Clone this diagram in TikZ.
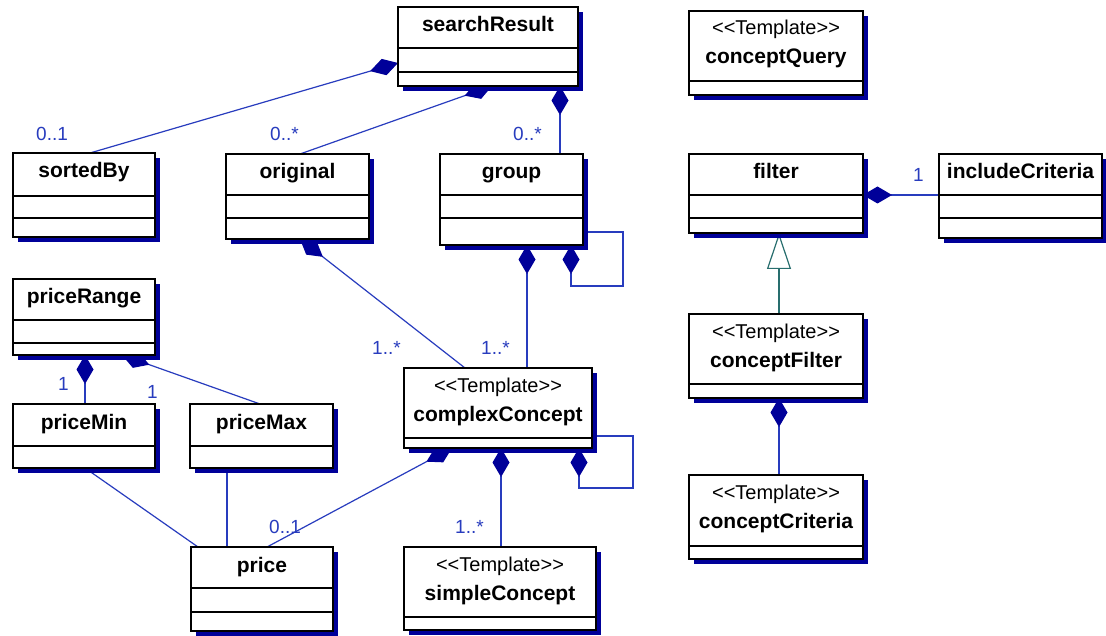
\documentclass[tikz,border=0pt]{standalone}
\usepackage{fontspec}
\setmainfont{Liberation Sans}
\usetikzlibrary{arrows.meta}
\definecolor{navy}{RGB}{0,0,153}
\definecolor{lineblue}{RGB}{40,60,190}
\definecolor{lblblue}{RGB}{40,60,190}
\definecolor{tealline}{RGB}{40,110,110}
\pgfdeclarelayer{bg}
\pgfsetlayers{bg,main}
\tikzset{
 cls/.style={draw=black, line width=1.3pt, fill=white, inner sep=0pt, outer sep=0pt, anchor=north west},
 shadowbox/.style={fill=navy},
 sepline/.style={draw=black, line width=1.3pt},
 cname/.style={font=\bfseries\fontsize{21}{21}\selectfont, anchor=base, inner sep=0pt},
 stereo/.style={font=\fontsize{20}{20}\selectfont, anchor=base, inner sep=0pt},
 mult/.style={font=\fontsize{19}{19}\selectfont, text=lblblue, anchor=base west, inner sep=0pt},
 assoc/.style={draw=lineblue, line width=1.2pt},
 compo/.style={assoc, {Diamond[length=29pt,width=17pt,fill=navy,color=navy]}-},
 gen/.style={draw=tealline, line width=1.2pt, -{Triangle[open,length=36pt,width=24pt,fill=white,color=tealline]}},
}
% id, x1, y1, x2, y2, sep1, sep2, name
\newcommand\plainclass[8]{%
 \fill[shadowbox] (#2+5,#3+5) rectangle (#4+5,#5+5);
 \pgfmathsetmacro\ww{#4-#2}\pgfmathsetmacro\hh{#5-#3}%
 \node[cls, minimum width=\ww pt, minimum height=\hh pt] (#1) at (#2,#3) {};
 \draw[sepline] (#2,#6) -- (#4,#6);
 \draw[sepline] (#2,#7) -- (#4,#7);
 \node[cname] (#1-n) at ({(#2+#4)/2},#3+25) {#8};
}
% id, x1, y1, x2, y2, sep1, name
\newcommand\onesepclass[7]{%
 \fill[shadowbox] (#2+5,#3+5) rectangle (#4+5,#5+5);
 \pgfmathsetmacro\ww{#4-#2}\pgfmathsetmacro\hh{#5-#3}%
 \node[cls, minimum width=\ww pt, minimum height=\hh pt] (#1) at (#2,#3) {};
 \draw[sepline] (#2,#6) -- (#4,#6);
 \node[cname] (#1-n) at ({(#2+#4)/2},#3+25) {#7};
}
% id, x1, y1, x2, y2, sep1, name
\newcommand\tmplclass[7]{%
 \fill[shadowbox] (#2+5,#3+5) rectangle (#4+5,#5+5);
 \pgfmathsetmacro\ww{#4-#2}\pgfmathsetmacro\hh{#5-#3}%
 \node[cls, minimum width=\ww pt, minimum height=\hh pt] (#1) at (#2,#3) {};
 \draw[sepline] (#2,#6) -- (#4,#6);
 \node[stereo] (#1-s) at ({(#2+#4)/2},#3+24) {<{}<Template>{}>};
 \node[cname] (#1-n) at ({(#2+#4)/2},#3+53) {#7};
}
\begin{document}
\begin{tikzpicture}[x=1pt,y=-1pt]
\useasboundingbox (0,0) rectangle (1106,636);
\begin{pgfonlayer}{bg}
\fill[white] (0,0) rectangle (1106,636);
\end{pgfonlayer}

\plainclass{sr}{398}{7}{578}{86}{48}{72}{searchResult}
\plainclass{sb}{13}{153}{155}{237}{196}{218}{sortedBy}
\plainclass{orig}{226}{154}{369}{239}{195}{218}{original}
\plainclass{grp}{440}{154}{583}{245}{195}{218}{group}
\tmplclass{cq}{689}{11}{863}{95}{81}{conceptQuery}
\plainclass{filt}{689}{154}{863}{233}{195}{218}{filter}
\plainclass{inc}{939}{154}{1102}{238}{195}{218}{includeCriteria}
\plainclass{pr}{13}{279}{155}{355}{320}{343}{priceRange}
\onesepclass{pmin}{13}{404}{155}{468}{446}{priceMin}
\onesepclass{pmax}{190}{404}{333}{468}{446}{priceMax}
\plainclass{price}{191}{547}{333}{631}{588}{612}{price}
\tmplclass{cc}{404}{368}{592}{448}{438}{complexConcept}
\tmplclass{sc}{404}{547}{596}{630}{617}{simpleConcept}
\tmplclass{cf}{689}{314}{863}{398}{384}{conceptFilter}
\tmplclass{ccr}{689}{475}{863}{559}{546}{conceptCriteria}

% connectors (behind the boxes)
\begin{pgfonlayer}{bg}
\draw[compo] ([yshift=-56pt]sr.north west) -- ([xshift=77pt]sb.north west);
\draw[compo] ([xshift=94pt]sr.south west) -- ([xshift=74pt]orig.north west);
\draw[compo] ([xshift=162pt]sr.south west) -- ([xshift=120pt]grp.north west);
\draw[compo] ([xshift=74pt]orig.south west) -- ([xshift=61pt]cc.north west);
\draw[compo] ([xshift=87pt]grp.south west) -- ([xshift=123pt]cc.north west);
\draw[compo] ([xshift=131pt]grp.south west) -- ++(0,41) -- ++(52,0) |- ([yshift=13pt]grp.south east);
\draw[compo] ([xshift=175pt]cc.south west) -- ++(0,40) -- ++(54,0) |- ([yshift=12pt]cc.south east);
\draw[compo] ([xshift=97pt]cc.south west) -- ([xshift=97pt]sc.north west);
\draw[compo] ([xshift=48pt]cc.south west) -- ([xshift=76pt]price.north west);
\draw[compo] ([xshift=72pt]pr.south west) -- ([xshift=72pt]pmin.north west);
\draw[compo] ([xshift=109pt]pr.south west) -- ([xshift=70pt]pmax.north west);
\draw[assoc] ([xshift=72pt]pmin.south west) -- ([xshift=7pt]price.north west);
\draw[assoc] ([xshift=37pt]pmax.south west) -- ([xshift=36pt]price.north west);
\draw[compo] ([yshift=-41pt]filt.north east) -- ([yshift=-41pt]inc.north west);
\draw[gen] ([xshift=90pt]cf.north west) -- ([xshift=90pt]filt.south west);
\draw[compo] ([xshift=90pt]cf.south west) -- ([xshift=90pt]ccr.north west);
\end{pgfonlayer}

% multiplicities
\node[mult] (m1) at (36,141) {0..1};
\node[mult] (m2) at (270,141) {0..*};
\node[mult] (m3) at (513,141) {0..*};
\node[mult] (m4) at (372,355) {1..*};
\node[mult] (m5) at (481,355) {1..*};
\node[mult] (m6) at (58,390) {1};
\node[mult] (m7) at (147,398) {1};
\node[mult] (m8) at (269,533) {0..1};
\node[mult] (m9) at (455,533) {1..*};
\node[mult] (m10) at (913,182) {1};
\end{tikzpicture}
\end{document}
